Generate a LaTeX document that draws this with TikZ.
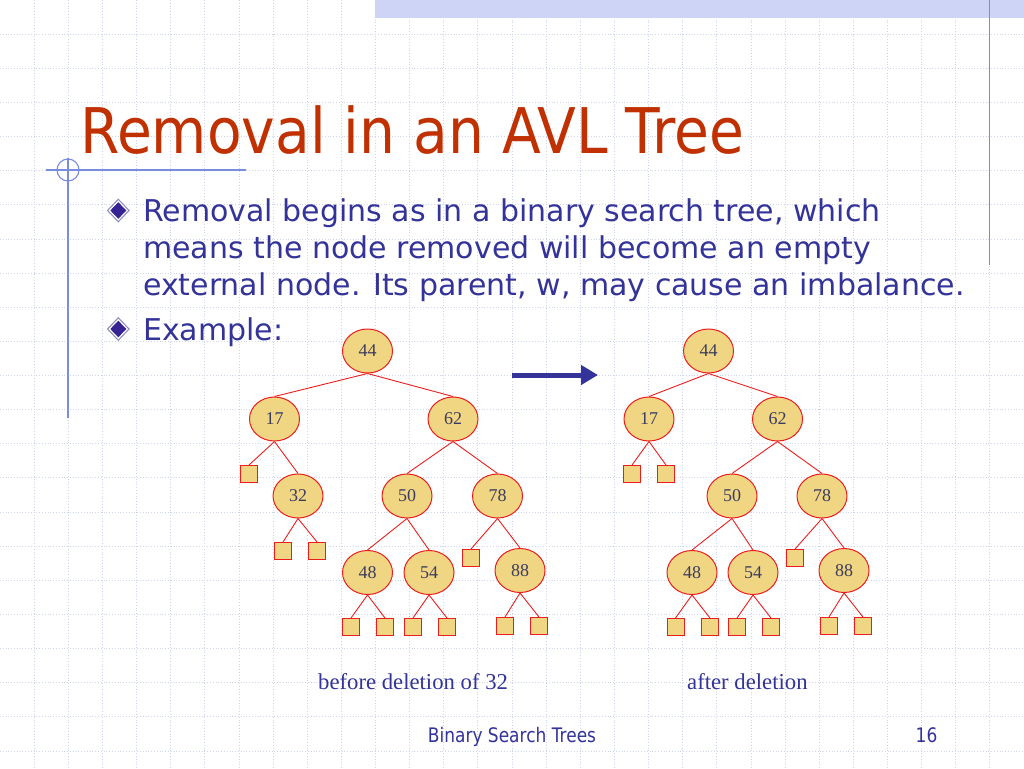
\documentclass[tikz,border=0pt]{standalone}
\usepackage{fontspec}
\setmainfont{Liberation Serif}
\newfontfamily\tah[FakeStretch=0.90]{DejaVu Sans}
\newfontfamily\tahb{DejaVu Sans}
\newfontfamily\tahn[FakeStretch=0.85]{DejaVu Sans}
\usetikzlibrary{shapes.geometric,arrows.meta,calc}
\definecolor{titlered}{RGB}{192,48,0}
\definecolor{txtblue}{RGB}{51,51,153}
\definecolor{gridc}{RGB}{208,213,238}
\definecolor{decoblue}{RGB}{120,140,225}
\definecolor{bandc}{RGB}{205,212,245}
\definecolor{nodefill}{RGB}{240,214,130}
\definecolor{edgered}{RGB}{235,30,30}
\definecolor{numc}{RGB}{60,60,95}
\definecolor{bulletdark}{RGB}{55,35,145}
\definecolor{bulletrim}{RGB}{140,140,190}
\tikzset{
  gridline/.style={draw=gridc, line width=0.8pt, dotted},
  deco/.style={draw=decoblue, line width=1.1pt},
  inner/.style={ellipse, draw=edgered, line width=1pt, fill=nodefill, minimum width=50pt, minimum height=44pt, inner sep=0pt, text=numc, font=\fontsize{18}{20}\selectfont},
  leaf/.style={rectangle, draw=edgered, line width=1pt, fill=nodefill, minimum size=17pt, inner sep=0pt},
  edge/.style={draw=edgered, line width=0.9pt},
  bodytext/.style={anchor=base west, inner sep=0pt, text=txtblue, font=\tahb\fontsize{30}{34}\selectfont},
  caption/.style={anchor=base west, inner sep=0pt, text=txtblue, font=\fontsize{22.7}{26}\selectfont},
  footer/.style={anchor=base, inner sep=0pt, text=txtblue, font=\tahn\fontsize{20}{24}\selectfont}
}
\newcommand{\bulletmark}[1]{%
  \fill[bulletrim] ($#1+(0,-12)$) -- ($#1+(11.5,0)$) -- ($#1+(0,12)$) -- ($#1+(-11.5,0)$) -- cycle;
  \fill[white] ($#1+(0,-10.3)$) -- ($#1+(9.8,0)$) -- ($#1+(0,10.3)$) -- ($#1+(-9.8,0)$) -- cycle;
  \fill[bulletdark] ($#1+(0,-8.3)$) -- ($#1+(8,0)$) -- ($#1+(0,8.3)$) -- ($#1+(-8,0)$) -- cycle;}
\begin{document}
\begin{tikzpicture}[x=1pt,y=-1pt]
\useasboundingbox (0,0) rectangle (1024,768);
\fill[white] (0,0) rectangle (1024,768);
% grid
\foreach \i in {1,...,29} \draw[gridline] ({\i*34.1333},0) -- ({\i*34.1333},768);
\foreach \j in {1,...,22} \draw[gridline] (0,{\j*34.1333}) -- (1024,{\j*34.1333});
% top band and decoration lines
\fill[bandc] (375,0) rectangle (1024,18);
\draw[deco] (989.5,0) -- (989.5,265);
\draw[deco] (46,170) -- (246,170);
\draw[deco] (68,158) -- (68,418);
\draw[deco] (68,170) circle (11);
% title
\node[anchor=base west, inner sep=0pt, text=titlered, font=\tah\fontsize{63}{70}\selectfont] (title) at (80,153) {Removal in an AVL Tree};
% bullets
\bulletmark{(118.3,210.5)}
\bulletmark{(118.3,329)}
\node[bodytext] (l1) at (143,221) {Removal begins as in a binary search tree, which};
\node[bodytext] (l2) at (143,258) {means the node removed will become an empty};
\node[bodytext] (l3) at (143,295) {external node. Its parent, w, may cause an imbalance.};
\node[bodytext] (l4) at (143,340) {Example:};
% arrow
\coordinate (arrS) at (512,375);
\coordinate (arrE) at (598,375);
\draw[txtblue, line width=5pt, -{Triangle[length=17pt,width=19pt]}] (arrS) -- (arrE);
% left tree
\node[inner] (L44) at (367.5,351) {44};
\node[inner] (L17) at (274.5,419) {17};
\node[inner] (L62) at (453,419) {62};
\node[inner] (L32) at (298,496) {32};
\node[inner] (L50) at (407,496) {50};
\node[inner] (L78) at (497.5,496) {78};
\node[inner] (L48) at (367.5,572.5) {48};
\node[inner] (L54) at (429,572.5) {54};
\node[inner] (L88) at (520,570.5) {88};
\node[leaf] (La) at (249,474) {};
\node[leaf] (Lb) at (283,551) {};
\node[leaf] (Lc) at (317,551) {};
\node[leaf] (Ld) at (471,558) {};
\node[leaf] (Le) at (351,627) {};
\node[leaf] (Lf) at (385,627) {};
\node[leaf] (Lg) at (413,627) {};
\node[leaf] (Lh) at (447,627) {};
\node[leaf] (Li) at (505,626) {};
\node[leaf] (Lj) at (539,626) {};
\foreach \p/\c in {L44/L17,L44/L62,L17/La,L17/L32,L32/Lb,L32/Lc,L62/L50,L62/L78,L50/L48,L50/L54,L78/Ld,L78/L88,L48/Le,L48/Lf,L54/Lg,L54/Lh,L88/Li,L88/Lj}
  \draw[edge] (\p.south) -- (\c.north);
% right tree
\node[inner] (R44) at (708.5,351) {44};
\node[inner] (R17) at (649,419) {17};
\node[inner] (R62) at (777.5,419) {62};
\node[inner] (R50) at (732,496) {50};
\node[inner] (R78) at (822,496) {78};
\node[inner] (R48) at (692,572.5) {48};
\node[inner] (R54) at (753,572.5) {54};
\node[inner] (R88) at (844,570.5) {88};
\node[leaf] (Ra) at (632,474) {};
\node[leaf] (Rb) at (666,474) {};
\node[leaf] (Rd) at (795,558) {};
\node[leaf] (Re) at (675.5,627) {};
\node[leaf] (Rf) at (710,627) {};
\node[leaf] (Rg) at (737,627) {};
\node[leaf] (Rh) at (771,627) {};
\node[leaf] (Ri) at (829,626) {};
\node[leaf] (Rj) at (863,626) {};
\foreach \p/\c in {R44/R17,R44/R62,R17/Ra,R17/Rb,R62/R50,R62/R78,R50/R48,R50/R54,R78/Rd,R78/R88,R48/Re,R48/Rf,R54/Rg,R54/Rh,R88/Ri,R88/Rj}
  \draw[edge] (\p.south) -- (\c.north);
% captions
\node[caption] (cap1) at (318,689) {before deletion of 32};
\node[caption] (cap2) at (687,689) {after deletion};
% footer
\node[footer] (foot) at (512,742) {Binary Search Trees};
\node[footer] (page) at (926.5,742) {16};
\end{tikzpicture}
\end{document}
